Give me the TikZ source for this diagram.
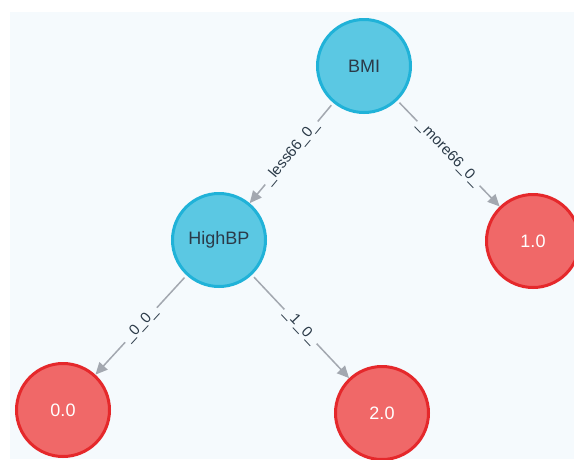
\documentclass[tikz,border=0pt]{standalone}
\usepackage{fontspec}
\setmainfont{Liberation Sans}
\usetikzlibrary{arrows.meta}
\definecolor{panelbg}{HTML}{F5FAFD}
\definecolor{bluefill}{HTML}{5BC8E3}
\definecolor{blueline}{HTML}{20B2D8}
\definecolor{redfill}{HTML}{F06868}
\definecolor{redline}{HTML}{E5282B}
\definecolor{edgegray}{HTML}{A3A8B0}
\definecolor{darktext}{HTML}{2B3A48}
\tikzset{
  feature/.style={circle, draw=blueline, fill=bluefill, line width=3pt, minimum size=93pt, inner sep=0pt, text=darktext, font=\fontsize{18}{20}\selectfont},
  leaf/.style={circle, draw=redline, fill=redfill, line width=3pt, minimum size=93pt, inner sep=0pt, text=white, font=\fontsize{18}{20}\selectfont},
  conn/.style={draw=edgegray, line width=1.5pt, -{Triangle[length=12pt,width=11pt]}, shorten <=3pt},
  elabel/.style={sloped, fill=panelbg, inner sep=2.5pt, text=darktext, font=\fontsize{15}{16}\selectfont}
}
\begin{document}
\begin{tikzpicture}[x=1pt,y=-1pt]
\useasboundingbox (0,0) rectangle (574,459);
\fill[white] (0,0) rectangle (574,459);
\fill[panelbg] (10,12) rectangle (574,459);
\node[feature] (bmi) at (364,66) {BMI};
\node[feature] (highbp) at (219,240) {HighBP};
\node[leaf] (l10) at (533,241) {1.0};
\node[leaf] (l00) at (63,410) {0.0};
\node[leaf] (l20) at (382,413) {2.0};
\draw[conn] (bmi) -- node[elabel] {\_less66\_0\_} (highbp);
\draw[conn] (bmi) -- node[elabel] {\_more66\_0\_} (l10);
\draw[conn] (highbp) -- node[elabel] {\_0\_0\_} (l00);
\draw[conn] (highbp) -- node[elabel] {\_1\_0\_} (l20);
\end{tikzpicture}
\end{document}
